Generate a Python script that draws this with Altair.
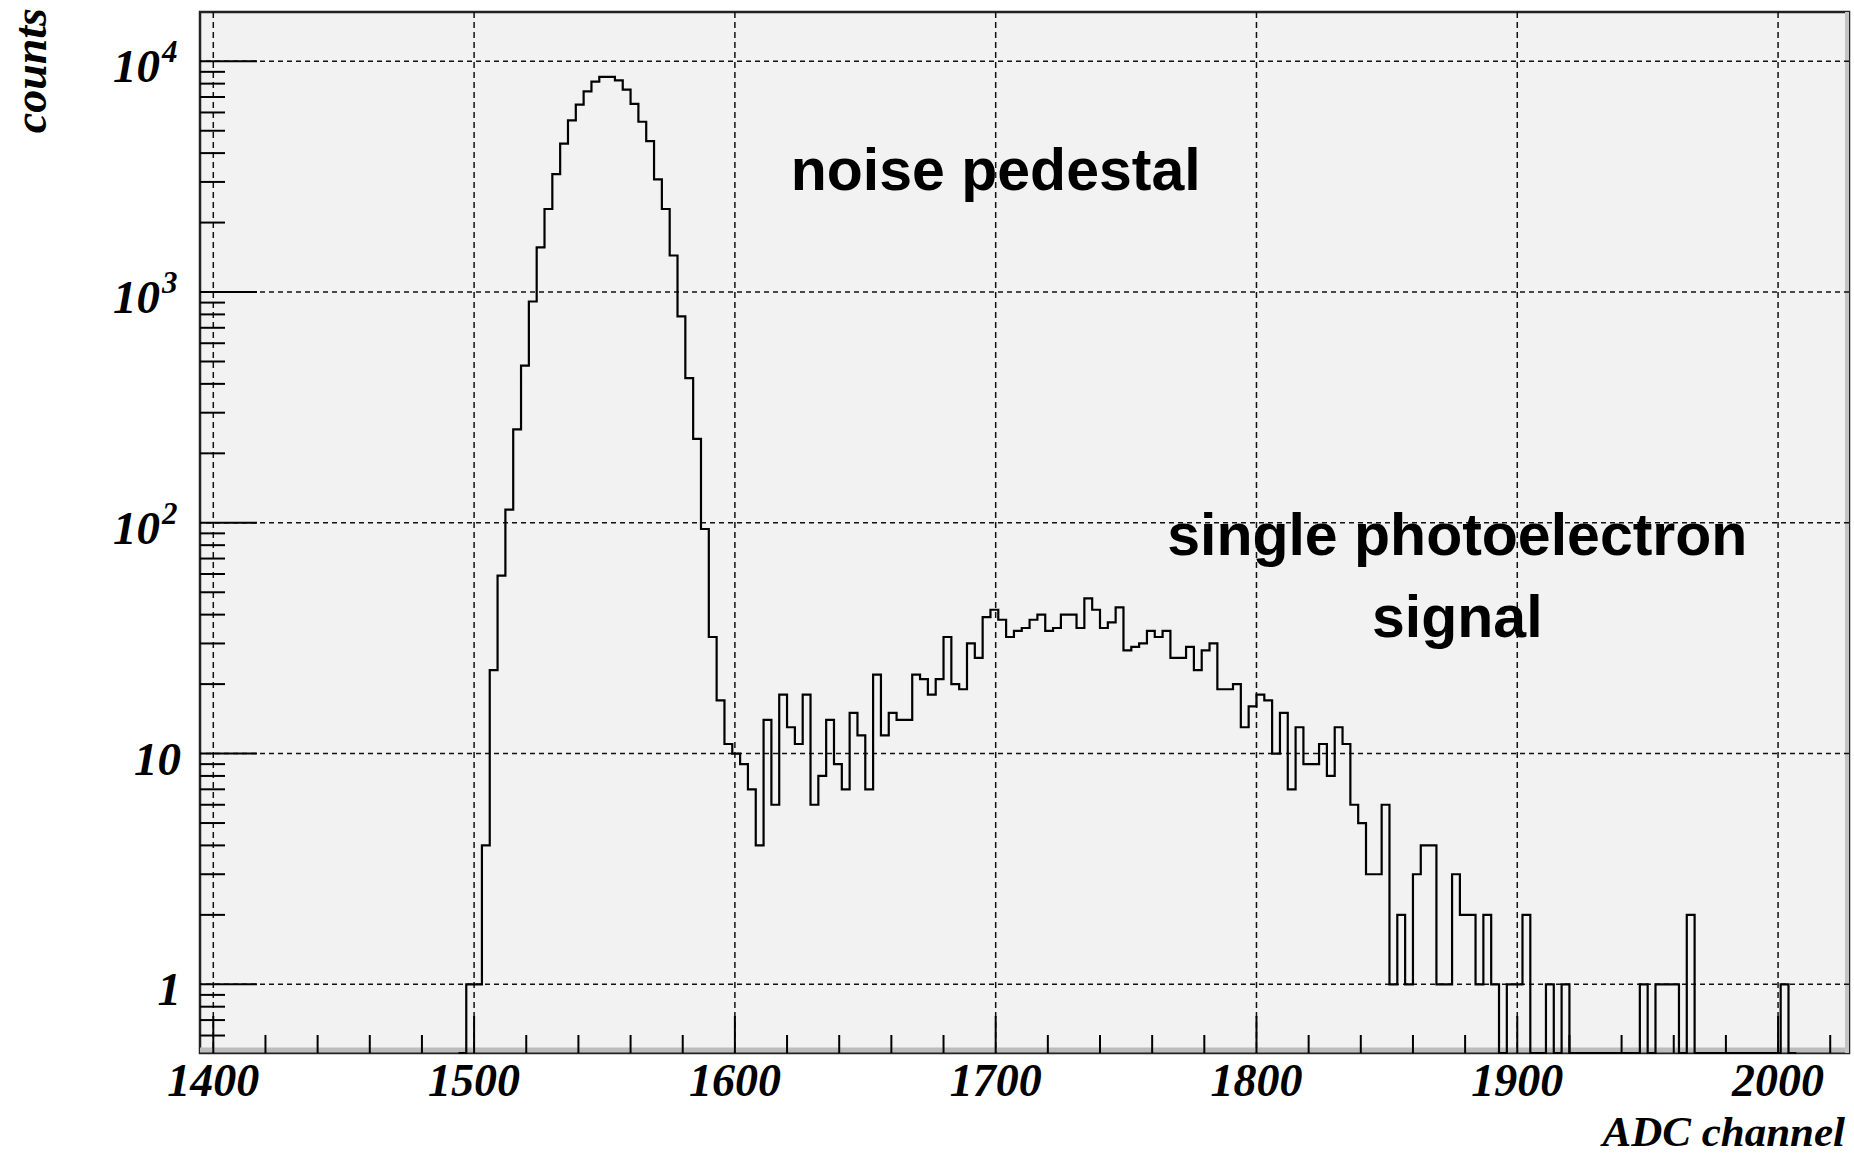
import altair as alt
import pandas as pd

# ---------------- data ----------------
BIN_START = 1494      # left edge of first listed bin (ADC channel)
BIN_WIDTH = 3         # histogram bin width (ADC channels)
COUNTS = [
    0, 1, 1, 4, 23, 59, 114, 254, 480, 910, 1560,
    2290, 3240, 4400, 5540, 6490, 7400, 8170, 8550, 8550, 8270,
    7530, 6540, 5470, 4510, 3080, 2290, 1440, 785, 424, 231,
    94, 32, 17, 11, 10, 9, 7, 4, 14, 6,
    18, 13, 11, 18, 6, 8, 14, 9, 7, 15,
    12, 7, 22, 12, 15, 14, 14, 22, 21, 18,
    21, 32, 20, 19, 30, 26, 39, 42, 38, 32,
    34, 35, 38, 40, 34, 35, 40, 40, 35, 47,
    42, 35, 37, 43, 28, 29, 30, 34, 32, 34,
    26, 26, 29, 23, 28, 30, 19, 19, 20, 13,
    16, 18, 17, 10, 15, 7, 13, 9, 9, 11,
    8, 13, 11, 6, 5, 3, 3, 6, 1, 2,
    1, 3, 4, 4, 1, 1, 3, 2, 2, 1,
    2, 1, 0, 1, 1, 2, 0, 0, 1, 0,
    1, 0, 0, 0, 0, 0, 0, 0, 0, 0,
    1, 0, 1, 1, 1, 0, 2, 0, 0, 0,
    0, 0, 0, 0, 0, 0, 0, 0, 1, 0,
]

X_DOMAIN = [1394.9, 2027.2]
Y_DOMAIN = [0.504, 16350]

X_MAJOR = [1400, 1500, 1600, 1700, 1800, 1900, 2000]
X_LABELS = ["1400", "1500", "1600", "1700", "1800", "1900", "2000"]
X_MINOR = [1420, 1440, 1460, 1480, 1520, 1540, 1560, 1580, 1620, 1640,
           1660, 1680, 1720, 1740, 1760, 1780, 1820, 1840, 1860, 1880,
           1920, 1940, 1960, 1980, 2020]
Y_MAJOR = [1, 10, 100, 1000, 10000]
Y_MANTISSA = ["1", "10", "10", "10", "10"]
Y_EXPONENT = ["", "", "2", "3", "4"]
Y_MINOR = [0.6, 0.7, 0.8, 0.9,
           2, 3, 4, 5, 6, 7, 8, 9,
           20, 30, 40, 50, 60, 70, 80, 90,
           200, 300, 400, 500, 600, 700, 800, 900,
           2000, 3000, 4000, 5000, 6000, 7000, 8000, 9000]

ANNOT_TEXT = ["noise pedestal", "single photoelectron", "signal"]
ANNOT_X = [1700, 1877, 1877]
ANNOT_Y = [2760, 72.4, 32.0]

Y_TITLE = "counts"
X_TITLE = "ADC channel"

# ---------------- layout ----------------
W, H = 1649, 1041
SERIF = "Liberation Serif"
SANS = "Liberation Sans"

# ---------------- tables ----------------
edges = [BIN_START + BIN_WIDTH * i for i in range(len(COUNTS) + 1)]
vals = COUNTS + [COUNTS[-1]]
hist_df = pd.DataFrame({"x": edges, "count": vals})
hist_df["y"] = hist_df["count"].clip(lower=Y_DOMAIN[0])

xmaj_df = pd.DataFrame({"v": X_MAJOR, "label": X_LABELS})
xmin_df = pd.DataFrame({"v": X_MINOR})
ymaj_df = pd.DataFrame({"v": Y_MAJOR, "m": Y_MANTISSA, "e": Y_EXPONENT})
ymin_df = pd.DataFrame({"v": Y_MINOR})
annot_df = pd.DataFrame({"x": ANNOT_X, "y": ANNOT_Y, "t": ANNOT_TEXT})
one = pd.DataFrame({"d": [0]})

xs = alt.Scale(domain=X_DOMAIN, nice=False, zero=False)
ys = alt.Scale(type="log", domain=Y_DOMAIN, nice=False)


def X(f):
    return alt.X(f"{f}:Q", scale=xs, axis=None)


def Y(f):
    return alt.Y(f"{f}:Q", scale=ys, axis=None)


shadow_b = alt.Chart(one).mark_rule(color="#bcbcbc", strokeWidth=5).encode(
    x=alt.value(0), x2=alt.value(W), y=alt.value(H - 3))
shadow_r = alt.Chart(one).mark_rule(color="#c4c4c4", strokeWidth=4).encode(
    x=alt.value(W - 2), y=alt.value(0), y2=alt.value(H))

vgrid = alt.Chart(xmaj_df).mark_rule(color="#111", strokeWidth=1.5, strokeDash=[6, 4]).encode(x=X("v"))
hgrid = alt.Chart(ymaj_df).mark_rule(color="#111", strokeWidth=1.5, strokeDash=[5, 4]).encode(y=Y("v"))

ytick_maj = alt.Chart(ymaj_df).mark_rule(color="#000", strokeWidth=2).encode(
    y=Y("v"), x=alt.value(0), x2=alt.value(57))
ytick_min = alt.Chart(ymin_df).mark_rule(color="#000", strokeWidth=2).encode(
    y=Y("v"), x=alt.value(0), x2=alt.value(25))
xtick_maj = alt.Chart(xmaj_df).mark_rule(color="#000", strokeWidth=2).encode(
    x=X("v"), y=alt.value(H), y2=alt.value(H - 37))
xtick_min = alt.Chart(xmin_df).mark_rule(color="#000", strokeWidth=2).encode(
    x=X("v"), y=alt.value(H), y2=alt.value(H - 18))

hist = alt.Chart(hist_df).mark_line(
    interpolate="step-after", color="#000", strokeWidth=2.2
).encode(x=X("x"), y=Y("y"))

lab_style = dict(font=SERIF, fontStyle="italic", fontWeight="bold", color="#000")

xlabels = alt.Chart(xmaj_df).mark_text(
    align="center", baseline="alphabetic", fontSize=46, **lab_style
).encode(x=X("v"), y=alt.value(1084), text="label:N")

ylab_plain = alt.Chart(ymaj_df).transform_filter("datum.e == ''").mark_text(
    align="right", baseline="alphabetic", fontSize=47, dy=21, **lab_style
).encode(x=alt.value(-19), y=Y("v"), text="m:N")

ylab_mant = alt.Chart(ymaj_df).transform_filter("datum.e != ''").mark_text(
    align="right", baseline="alphabetic", fontSize=47, dy=21, **lab_style
).encode(x=alt.value(-40), y=Y("v"), text="m:N")

ylab_exp = alt.Chart(ymaj_df).transform_filter("datum.e != ''").mark_text(
    align="left", baseline="alphabetic", fontSize=31, dy=1, **lab_style
).encode(x=alt.value(-38), y=Y("v"), text="e:N")

ytitle = alt.Chart(pd.DataFrame({"t": [Y_TITLE]})).mark_text(
    angle=270, align="right", baseline="alphabetic", fontSize=46, **lab_style
).encode(x=alt.value(-154), y=alt.value(-4), text="t:N")

xtitle = alt.Chart(pd.DataFrame({"t": [X_TITLE]})).mark_text(
    align="right", baseline="alphabetic", fontSize=43, **lab_style
).encode(x=alt.value(W - 4), y=alt.value(1134), text="t:N")

annot = alt.Chart(annot_df).mark_text(
    font=SANS, fontWeight="bold", fontSize=59, align="center", baseline="alphabetic", color="#000"
).encode(x=X("x"), y=Y("y"), text="t:N")

chart = alt.layer(
    shadow_b, shadow_r, vgrid, hgrid, ytick_maj, ytick_min, xtick_maj, xtick_min,
    hist, xlabels, ylab_plain, ylab_mant, ylab_exp, ytitle, xtitle, annot
).properties(
    width=W, height=H,
    autosize=alt.AutoSizeParams(type="none"),
    padding={"left": 200, "top": 12, "right": 5, "bottom": 103},
    background="#ffffff",
).configure_view(fill="#f2f2f2", stroke="#222", strokeWidth=2.5)

chart.save("out.html", embed_options={"renderer": "svg", "actions": False})
